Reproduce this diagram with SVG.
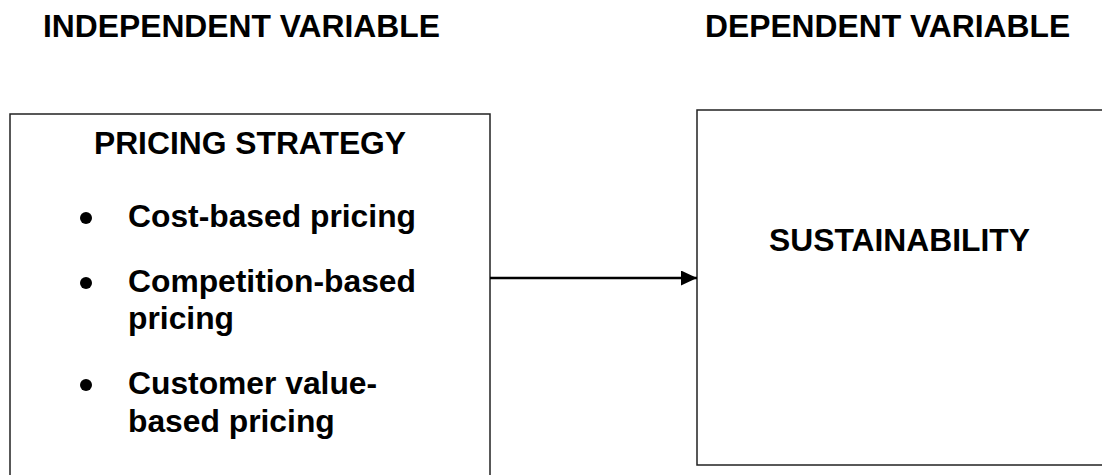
<svg xmlns="http://www.w3.org/2000/svg" width="1102" height="475" viewBox="0 0 1102 475">
  <style>
    text { font-family: "Liberation Sans", Arial, sans-serif; font-weight: bold; fill: #000; font-size: 31.8px; }
    .box { fill: #fff; stroke: #222; stroke-width: 1.5; }
    .conn { stroke: #000; stroke-width: 2.5; fill: none; }
  </style>
  <defs>
    <marker id="arrow" viewBox="0 0 16 15" refX="16" refY="7.5" markerWidth="16" markerHeight="15" markerUnits="userSpaceOnUse" orient="auto">
      <path d="M0,0 L16,7.5 L0,15 Z" fill="#000"/>
    </marker>
  </defs>
  <rect width="1102" height="475" fill="#fff"/>
  <g id="header-independent">
    <text x="43" y="37">INDEPENDENT VARIABLE</text>
  </g>
  <g id="header-dependent">
    <text x="705" y="37">DEPENDENT VARIABLE</text>
  </g>
  <g id="node-pricing">
    <rect class="box" x="10" y="114" width="480" height="370"/>
    <text x="250" y="154" text-anchor="middle">PRICING STRATEGY</text>
    <circle cx="86" cy="218" r="6" fill="#000"/>
    <text x="128" y="227">Cost-based pricing</text>
    <circle cx="86" cy="283" r="6" fill="#000"/>
    <text x="128" y="292">Competition-based</text>
    <text x="128" y="328.5">pricing</text>
    <circle cx="86" cy="385" r="6" fill="#000"/>
    <text x="128" y="394">Customer value-</text>
    <text x="128" y="431.5">based pricing</text>
  </g>
  <g id="node-sustainability">
    <rect class="box" x="697" y="110" width="420" height="355"/>
    <text x="769" y="251">SUSTAINABILITY</text>
  </g>
  <g id="connectors">
    <line class="conn" x1="490" y1="278" x2="697" y2="278" marker-end="url(#arrow)"/>
  </g>
</svg>
